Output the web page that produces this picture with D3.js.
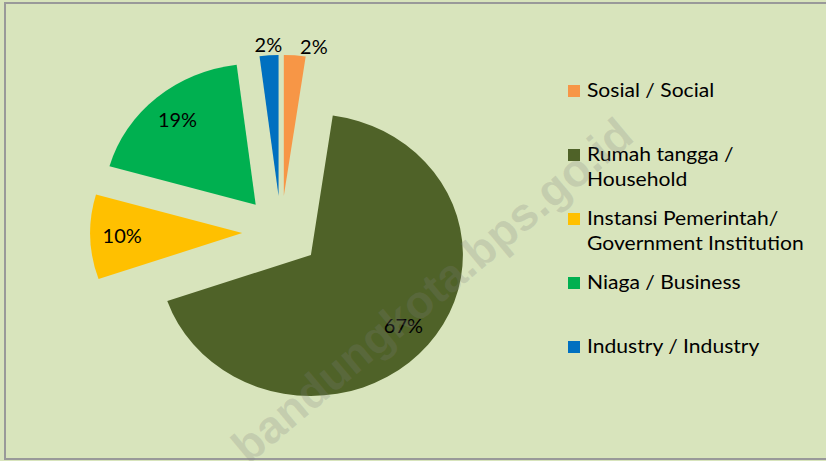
<!DOCTYPE html>
<html>
<head>
<meta charset="utf-8">
<script src="https://cdn.jsdelivr.net/npm/d3@7"></script>
<style>
  html, body { margin: 0; padding: 0; background: #d8e4bc; }
  svg { display: block; }
  text { font-family: Lato, "Open Sans", sans-serif; }
</style>
</head>
<body>
<svg id="chart" width="826" height="461"></svg>
<script>
// data (shares in %, labels are the rounded ones)
var categories = ["Sosial / Social", "Rumah tangga / Household", "Instansi Pemerintah/ Government Institution", "Niaga / Business", "Industry / Industry"];
var legendLines = [["Sosial / Social"], ["Rumah tangga /", "Household"], ["Instansi Pemerintah/", "Government Institution"], ["Niaga / Business"], ["Industry / Industry"]];
var values = [2.3, 67.4, 9.7, 18.6, 2.0];
var colors = ["#f79646", "#4f6228", "#ffc000", "#00b050", "#0070c0"];

var svg = d3.select("#chart");
var W = 826, H = 461;

svg.append("rect").attr("width", W).attr("height", H).attr("fill", "#d8e4bc");
// frame (right edge runs off the picture)
svg.append("rect")
  .attr("x", 5).attr("y", 3).attr("width", W + 10).attr("height", 456)
  .attr("fill", "none").attr("stroke", "#999").attr("stroke-width", 2);

var cx = 281, cy = 232,   // pie centre
    R = 141,              // radius
    sx = 1.078,           // the picture is a bit wider than tall
    explode = 36;

var pie = d3.pie().sort(null).value(function(d){ return d; });
var arcs = pie(values);
var arc = d3.arc().innerRadius(0).outerRadius(R);

var g = svg.append("g").attr("transform", "translate(" + cx + "," + cy + ") scale(" + sx + ",1)");

g.selectAll("path.slice")
  .data(arcs)
  .enter().append("path")
    .attr("class", "slice")
    .attr("d", arc)
    .attr("fill", function(d, i){ return colors[i]; })
    .attr("transform", function(d){
      var m = (d.startAngle + d.endAngle) / 2;
      return "translate(" + (explode * Math.sin(m)) + "," + (-explode * Math.cos(m)) + ")";
    });

// label angles, small slices go outside and get spread apart
var labelInfo = arcs.map(function(d){
  var m = (d.startAngle + d.endAngle) / 2;
  var outside = d.value < 5;
  return {a: m, outside: outside, r: outside ? explode + 1.07 * R : explode + 0.79 * R};
});
var outs = labelInfo.filter(function(l){ return l.outside; })
  .map(function(l){ if (l.a > Math.PI) l.a -= 2 * Math.PI; return l; })
  .sort(function(a, b){ return a.a - b.a; });
var minGap = 13 * Math.PI / 180;
for (var k = 1; k < outs.length; k++) {
  if (outs[k].a - outs[k-1].a < minGap) outs[k].a = outs[k-1].a + minGap;
}

svg.selectAll("text.pct")
  .data(arcs)
  .enter().append("text")
    .attr("class", "pct")
    .attr("transform", function(d, i){
      var x = cx + sx * labelInfo[i].r * Math.sin(labelInfo[i].a),
          y = cy - labelInfo[i].r * Math.cos(labelInfo[i].a);
      return "translate(" + x + "," + y + ") scale(1.05,1)";
    })
    .attr("dy", "0.36em")
    .attr("text-anchor", "middle")
    .attr("font-size", 19)
    .attr("fill", "#000")
    .text(function(d){ return Math.round(d.value) + "%"; });

// legend
var legend = svg.append("g").attr("transform", "translate(568,0)");
var rowY = [97, 161, 225, 289, 353];
var item = legend.selectAll("g.item")
  .data(categories)
  .enter().append("g")
    .attr("class", "item")
    .attr("transform", function(d, i){ return "translate(0," + rowY[i] + ")"; });
item.append("rect")
  .attr("x", 0).attr("y", -12).attr("width", 12).attr("height", 12)
  .attr("fill", function(d, i){ return colors[i]; });
item.each(function(d, i){
  var t = d3.select(this).append("text")
    .attr("transform", "translate(19,0) scale(1.11,1)")
    .attr("font-size", 19).attr("fill", "#000");
  legendLines[i].forEach(function(line, j){
    t.append("tspan").attr("x", 0).attr("y", j * 25).text(line);
  });
});

// watermark (runs off the bottom edge, as in the original)
svg.append("text")
  .attr("transform", "translate(432,290) rotate(-40)")
  .attr("text-anchor", "middle")
  .attr("dy", "0.35em")
  .style("font-family", "'Liberation Sans', Arial, sans-serif")
  .attr("font-weight", "bold")
  .attr("font-size", 46)
  .attr("fill", "#7f7f7f")
  .attr("fill-opacity", 0.22)
  .text("bandungkota.bps.go.id");
</script>
</body>
</html>
